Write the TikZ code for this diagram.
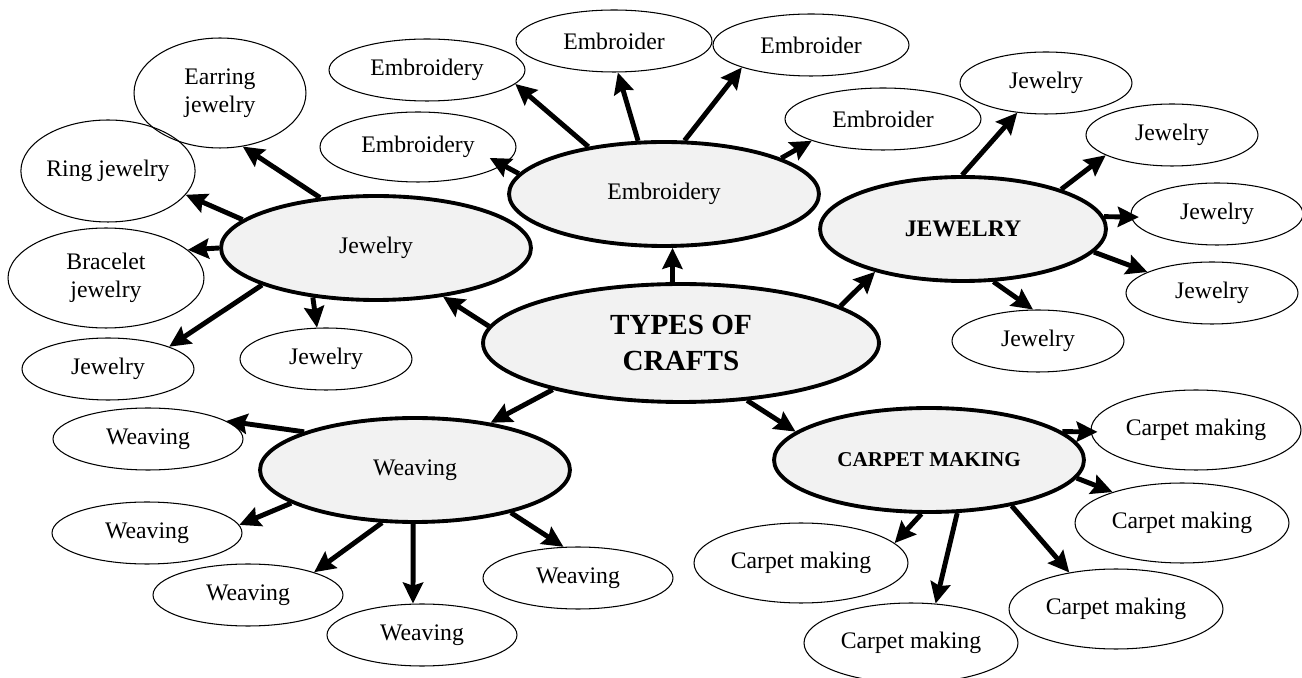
\documentclass[tikz,border=0pt]{standalone}
\usepackage{fontspec}
\setmainfont{Liberation Serif}
\usetikzlibrary{shapes.geometric, arrows.meta}
\tikzset{
        >={Stealth[length=4.2mm, width=4mm, inset=0.6mm]}, % makes the arrow heads bold
        spoke/.style={->, line width=2.8pt}, % the thick arrows between the ovals
        craft/.style={ellipse, draw, line width=2.2pt, fill=black!5, inner sep=0pt,
                minimum width=6.2cm, minimum height=2.08cm,
                font=\fontsize{13.5}{16}\selectfont}, % grey ovals of the main crafts
        subcraft/.style={ellipse, draw, line width=0.6pt, inner sep=0pt,
                minimum width=3.44cm, minimum height=1.24cm,
                font=\fontsize{13.5}{16}\selectfont}, % white ovals round them
        weave/.style={subcraft, minimum width=3.8cm}, % sets the size of the weaving ovals
        rug/.style={subcraft, minimum width=4.28cm, minimum height=1.6cm},
}

\begin{document}
\begin{tikzpicture}[x=0.02cm, y=-0.02cm]
      \useasboundingbox (0,0) rectangle (1302,678);
      \node[craft, minimum width=7.92cm, minimum height=2.36cm, align=center,
            font=\bfseries\fontsize{16.6}{21}\selectfont] (crafts) at (681,343) {TYPES OF\\CRAFTS};
      \node[craft] (embroidery) at (664,194) {Embroidery};
      \node[craft, minimum width=5.72cm, font=\bfseries\fontsize{13.5}{16}\selectfont] (jewelryright) at (963,229) {JEWELRY};
      \node[craft] (jewelryleft) at (376,248) {Jewelry};
      \node[craft] (weaving) at (415,470) {Weaving};
      \node[craft, font=\bfseries\fontsize{12}{14}\selectfont] (carpet) at (929,460) {CARPET MAKING};

      \node[subcraft, minimum height=2.2cm, align=center] (earring) at (220,93) {Earring\\jewelry};
      \node[subcraft, minimum height=2.04cm] (ring) at (108,171) {Ring jewelry};
      \node[subcraft, minimum width=3.92cm, minimum height=2cm, align=center] (bracelet) at (106,278) {Bracelet\\jewelry};
      \node[subcraft] (jewelrya) at (108,369) {Jewelry};
      \node[subcraft] (jewelryb) at (326,359) {Jewelry};
      \node[subcraft, minimum width=3.92cm] (embroideryb) at (427,70) {Embroidery};
      \node[subcraft, minimum width=3.92cm, minimum height=1.4cm] (embroideryc) at (418,147) {Embroidery};
      \node[subcraft, minimum width=3.92cm] (embroidera) at (614,41) {Embroider};
      \node[subcraft, minimum width=3.92cm] (embroiderb) at (811,45) {Embroider};
      \node[subcraft, minimum width=3.92cm] (embroiderc) at (883,119) {Embroider};
      \node[subcraft] (jewel1) at (1046,83) {Jewelry};
      \node[subcraft] (jewel2) at (1172,135) {Jewelry};
      \node[subcraft] (jewel3) at (1217,214) {Jewelry};
      \node[subcraft] (jewel4) at (1212,293) {Jewelry};
      \node[subcraft] (jewel5) at (1038,341) {Jewelry};
      \node[weave] (weave1) at (148,439) {Weaving};
      \node[weave] (weave2) at (147,533) {Weaving};
      \node[weave] (weave3) at (248,595) {Weaving};
      \node[weave] (weave4) at (422,635) {Weaving};
      \node[weave] (weave5) at (578,578) {Weaving};
      \node[rug, minimum width=4.2cm] (rug1) at (1196,430) {Carpet making};
      \node[rug] (rug2) at (1182,523) {Carpet making};
      \node[rug] (rug3) at (801,563) {Carpet making};
      \node[rug] (rug4) at (911,643) {Carpet making};
      \node[rug] (rug5) at (1116,609) {Carpet making};

      \draw[spoke] (crafts.175) -- (jewelryleft.-36);
      \draw[spoke] (crafts.98) -- (embroidery.-81);
      \draw[spoke] (crafts.13) -- (jewelryright.206);
      \draw[spoke] (crafts.200) -- (weaving.32);
      \draw[spoke] (crafts.-41) -- (carpet.168);

      \draw[spoke] (embroidery.148) -- (embroideryb.-9);
      \draw[spoke, shorten >=-0.3cm] (embroidery.172) -- (embroideryc.-12);
      \draw[spoke] (embroidery.116) -- (embroidera.-83);
      \draw[spoke] (embroidery.69) -- (embroiderb.198);
      \draw[spoke] (embroidery.17) -- (embroiderc.197);

      \draw[spoke] (jewelryleft.138) -- (earring.-67);
      \draw[spoke] (jewelryleft.168) -- (ring.-17);
      \draw[spoke] (jewelryleft.180) -- (bracelet.19);
      \draw[spoke] (jewelryleft.198) -- (jewelrya.20);
      \draw[spoke] (jewelryleft.218) -- (jewelryb.106);

      \draw[spoke] (jewelryright.91) -- (jewel1.-134);
      \draw[spoke] (jewelryright.22) -- (jewel2.197);
      \draw[spoke, shorten >=-0.16cm] (jewelryright.5) -- (jewel3.182);
      \draw[spoke] (jewelryright.-10) -- (jewel4.162);
      \draw[spoke] (jewelryright.-60) -- (jewel5.99);

      \draw[spoke] (weaving.161) -- (weave1.13);
      \draw[spoke] (weaving.195) -- (weave2.5);
      \draw[spoke] (weaving.238) -- (weave3.19);
      \draw[spoke] (weaving.268) -- (weave4.106);
      \draw[spoke] (weaving.-24) -- (weave5.115);

      \draw[spoke, shorten >=-0.14cm] (carpet.12) -- (rug1.181);
      \draw[spoke] (carpet.-7) -- (rug2.156);
      \draw[spoke] (carpet.262) -- (rug3.12);
      \draw[spoke] (carpet.-62) -- (rug4.58);
      \draw[spoke] (carpet.-29) -- (rug5.142);
\end{tikzpicture}
\end{document}
